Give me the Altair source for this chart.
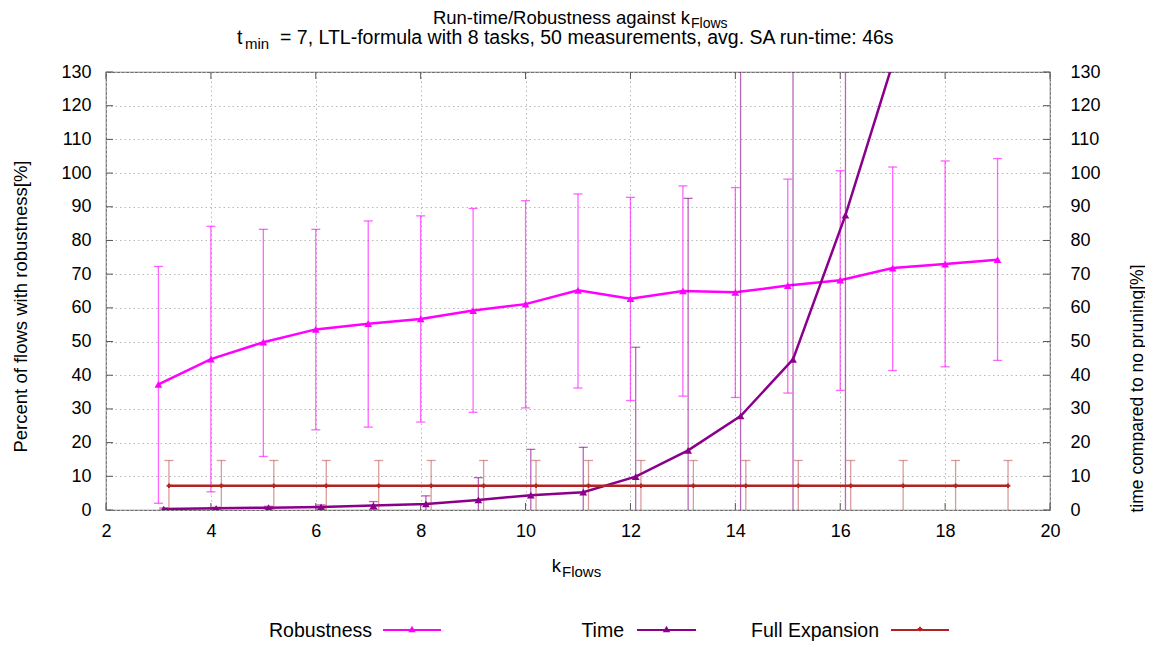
import altair as alt
import pandas as pd

# ---------------- data ----------------
k_rob = [3, 4, 5, 6, 7, 8, 9, 10, 11, 12, 13, 14, 15, 16, 17, 18, 19]
rob_val = [37.3, 44.8, 49.8, 53.6, 55.3, 56.7, 59.2, 61.1, 65.2, 62.7, 65.0, 64.6, 66.6, 68.2, 71.8, 73.0, 74.3]
rob_lo = [2.0, 5.4, 15.9, 23.8, 24.6, 26.1, 29.0, 30.3, 36.2, 32.5, 33.8, 33.4, 34.7, 35.5, 41.4, 42.5, 44.4]
rob_hi = [72.3, 84.2, 83.3, 83.3, 85.8, 87.3, 89.5, 91.8, 93.8, 92.8, 96.2, 95.7, 98.2, 100.7, 101.8, 103.6, 104.3]

k_time = [3, 4, 5, 6, 7, 8, 9, 10, 11, 12, 13, 14, 15, 16, 17]
time_val = [0.3, 0.5, 0.7, 0.9, 1.3, 1.8, 3.0, 4.4, 5.3, 9.9, 17.7, 27.9, 44.7, 87.5, 137.5]
time_lo = [0.0, 0.2, 0.3, 0.3, 0.1, -0.6, -3.6, -9.2, -8.0, -28.5, -57.1, -150.0, -160.0, -140.0, 135.0]
time_hi = [0.6, 0.8, 1.1, 1.5, 2.5, 4.2, 9.6, 18.0, 18.6, 48.3, 92.5, 205.0, 250.0, 315.0, 140.0]

k_fe = [3, 4, 5, 6, 7, 8, 9, 10, 11, 12, 13, 14, 15, 16, 17, 18, 19]
fe_val = [7.2, 7.2, 7.2, 7.2, 7.2, 7.2, 7.2, 7.2, 7.2, 7.2, 7.2, 7.2, 7.2, 7.2, 7.2, 7.2, 7.2]
fe_lo = [-0.3, -0.3, -0.3, -0.3, -0.3, -0.3, -0.3, -0.3, -0.3, -0.3, -0.3, -0.3, -0.3, -0.3, -0.3, -0.3, -0.3]
fe_hi = [14.7, 14.7, 14.7, 14.7, 14.7, 14.7, 14.7, 14.7, 14.7, 14.7, 14.7, 14.7, 14.7, 14.7, 14.7, 14.7, 14.7]

x_ticks = [2, 4, 6, 8, 10, 12, 14, 16, 18, 20]
y_ticks = [0, 10, 20, 30, 40, 50, 60, 70, 80, 90, 100, 110, 120, 130]

series_names = ["Robustness", "Time", "Full Expansion"]
title_main = "Run-time/Robustness against k"
title_sub1 = "Flows"
title2_t = "t"
title2_sub = "min"
title2_rest = "= 7, LTL-formula with 8 tasks, 50 measurements, avg. SA run-time: 46s"
x_title_main = "k"
x_title_sub = "Flows"
y_title_left = "Percent of flows with robustness[%]"
y_title_right = "time compared to no pruning[%]"

# ---------------- styling ----------------
FONT = "Liberation Sans"
W, H = 944, 438
C_ROB = "#ff00ff"
C_TIME = "#8b008b"
C_FE = "#b22222"
TICKC = "#555555"

rob_df = pd.DataFrame({"k": k_rob, "v": rob_val, "lo": rob_lo, "hi": rob_hi})
time_df = pd.DataFrame({"k": k_time, "v": time_val, "lo": time_lo, "hi": time_hi})
fe_df = pd.DataFrame({"k": k_fe, "v": fe_val, "lo": fe_lo, "hi": fe_hi})
xt_df = pd.DataFrame({"t": x_ticks})
yt_df = pd.DataFrame({"t": y_ticks})
one = pd.DataFrame({"a": [0]})

xs = alt.Scale(domain=[2, 20], nice=False, zero=False)
ys = alt.Scale(domain=[0, 130], nice=False, zero=False)

grid_kw = dict(grid=True, gridDash=[1.5, 3], gridColor="#b8b8b8", gridWidth=1)

x_axis = alt.Axis(values=x_ticks, title=None, ticks=False, domain=False,
                  labelPadding=12, labelFlush=False, format="d", **grid_kw)
left_axis = alt.Axis(values=y_ticks, title=y_title_left, ticks=False, domain=False,
                     labelPadding=15, format="d", titleAngle=270, titleX=-86, titleY=234,
                     titleAlign="center", titleBaseline="middle", titleFontSize=18.5,
                     **grid_kw)
right_axis = alt.Axis(values=y_ticks, title=y_title_right, orient="right", ticks=False,
                      domain=False, grid=False, labelPadding=20, format="d",
                      titleAngle=270, titleX=87, titleY=316, titleAlign="center",
                      titleBaseline="middle")


def X(field):
    return alt.X(field, type="quantitative", scale=xs, axis=x_axis)


def Y(field):
    return alt.Y(field, type="quantitative", scale=ys, axis=left_axis)


def errbars(df, off, color, opacity):
    base = alt.Chart(df).transform_calculate(x=f"datum.k + {off}")
    bar = base.mark_rule(color=color, opacity=opacity, strokeWidth=1.3, clip=True).encode(
        x=X("x"), y=Y("lo"), y2="hi")
    cap_hi = base.mark_tick(orient="horizontal", color=color, opacity=opacity, size=9,
                            thickness=1.3, clip=True).encode(x=X("x"), y=Y("hi"))
    cap_lo = base.mark_tick(orient="horizontal", color=color, opacity=opacity, size=9,
                            thickness=1.3, clip=True).encode(x=X("x"), y=Y("lo"))
    return [bar, cap_hi, cap_lo]


def series(df, off, color, shape, size, width=2.5):
    base = alt.Chart(df).transform_calculate(x=f"datum.k + {off}")
    line = base.mark_line(color=color, strokeWidth=width, clip=True).encode(x=X("x"), y=Y("v"))
    pts = base.mark_point(shape=shape, filled=True, color=color, size=size, opacity=1,
                          clip=True).encode(x=X("x"), y=Y("v"))
    return [line, pts]


# inward tick marks (gnuplot style)
ticks_layers = [
    alt.Chart(yt_df).mark_rule(color=TICKC, strokeWidth=1).encode(
        y=Y("t"), x=alt.value(0), x2=alt.value(7)),
    alt.Chart(yt_df).mark_rule(color=TICKC, strokeWidth=1).encode(
        y=Y("t"), x=alt.value(W - 7), x2=alt.value(W)),
    alt.Chart(xt_df).mark_rule(color=TICKC, strokeWidth=1).encode(
        x=X("t"), y=alt.value(H - 7), y2=alt.value(H)),
    alt.Chart(xt_df).mark_rule(color=TICKC, strokeWidth=1).encode(
        x=X("t"), y=alt.value(0), y2=alt.value(7)),
]

layers = []
layers += ticks_layers
layers += errbars(rob_df, 0.0, C_ROB, 0.6)
layers += series(rob_df, 0.0, C_ROB, "triangle-up", 60)
layers += errbars(time_df, 0.1, C_TIME, 0.6)
layers += series(time_df, 0.1, C_TIME, "triangle-up", 60)
layers += errbars(fe_df, 0.2, C_FE, 0.45)
layers += series(fe_df, 0.2, C_FE, "cross", 22, width=2.5)


def txt(text, x, y, size=17, align="left", angle=0, baseline="alphabetic"):
    return alt.Chart(one).mark_text(text=text, font=FONT, fontSize=size, align=align,
                                    baseline=baseline, color="black", angle=angle).encode(
        x=alt.value(x), y=alt.value(y))


# title
layers += [
    txt(title_main, 584, -48, size=18.5, align="right"),
    txt(title_sub1, 585, -44, size=14),
    txt(title2_t, 131, -28, size=19.5),
    txt(title2_sub, 139, -23.5, size=15),
    txt(title2_rest, 174, -28, size=19.5),
]
# x-axis title
layers += [
    txt(x_title_main, 455, 500, size=18.5, align="right"),
    txt(x_title_sub, 456, 505, size=15),
]

# legend
leg = [
    (series_names[0], 266, 277, 335, C_ROB, "triangle-up", 55),
    (series_names[1], 518, 531, 590, C_TIME, "triangle-up", 55),
    (series_names[2], 773, 785, 843, C_FE, "cross", 22),
]
for name, tx, x0, x1, col, shp, sz in leg:
    layers.append(txt(name, tx, 565, size=19.5, align="right"))
    layers.append(alt.Chart(one).mark_rule(color=col, strokeWidth=2).encode(
        x=alt.value(x0), x2=alt.value(x1), y=alt.value(558)))
    layers.append(alt.Chart(one).mark_point(shape=shp, filled=True, color=col, size=sz,
                                            opacity=1).encode(
        x=alt.value((x0 + x1) / 2), y=alt.value(557)))

main = alt.layer(*layers)

right = alt.Chart(yt_df).mark_point(opacity=0).encode(
    x=X("t"),
    y=alt.Y("t", type="quantitative", scale=ys, axis=right_axis),
)

chart = alt.layer(main, right).resolve_scale(y="independent").properties(
    width=W, height=H,
    autosize=alt.AutoSizeParams(type="none"),
    padding={"left": 98, "top": 64, "right": 95, "bottom": 134},
).configure_view(stroke="#707070", strokeWidth=1.2).configure_axis(
    labelFont=FONT, labelFontSize=18, labelColor="black",
    titleFont=FONT, titleFontSize=17.5, titleFontWeight="normal", titleColor="black",
)

chart.save("out.html", embed_options={"renderer": "svg", "actions": False})
